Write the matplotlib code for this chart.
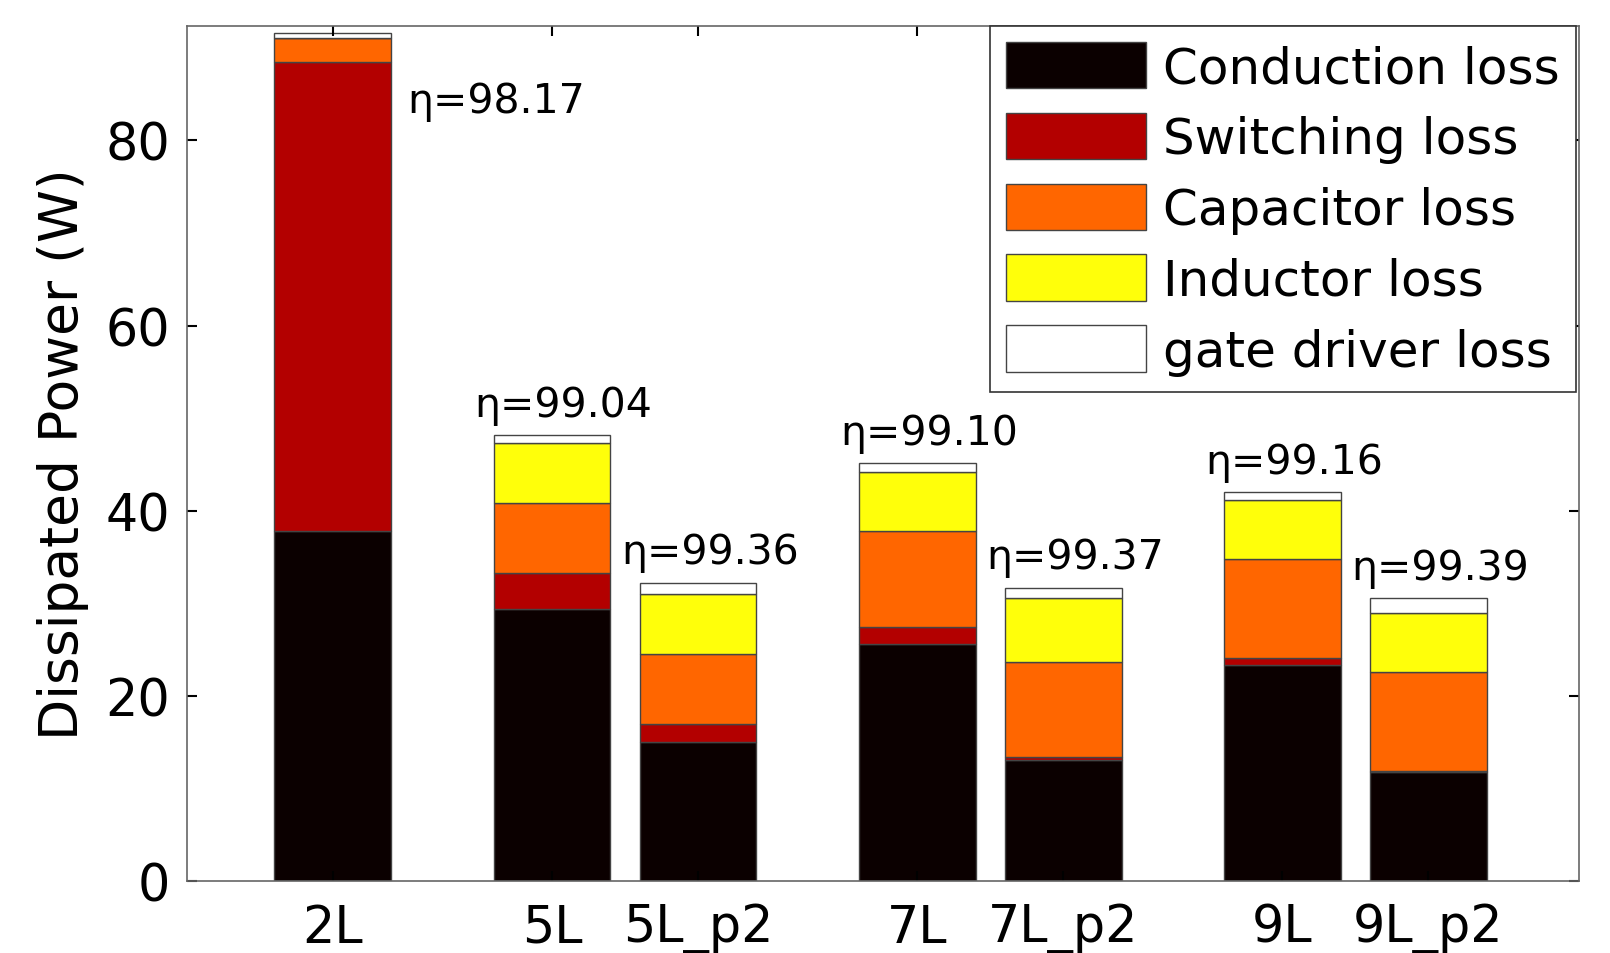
import matplotlib
matplotlib.use("Agg")
import matplotlib.pyplot as plt
import numpy as np

categories = ["2L", "5L", "5L_p2", "7L", "7L_p2", "9L", "9L_p2"]
conduction = [37.8, 29.4, 14.95, 25.6, 13.0, 23.35, 11.8]
switching = [50.7, 3.8, 1.95, 1.85, 0.4, 0.7, 0.05]
capacitor = [2.6, 7.65, 7.6, 10.3, 10.27, 10.7, 10.66]
inductor = [0.0, 6.45, 6.5, 6.45, 6.83, 6.4, 6.45]
gate_driver = [0.5, 0.85, 1.2, 0.9, 1.17, 0.85, 1.55]
efficiency = ["98.17", "99.04", "99.36", "99.10", "99.37", "99.16", "99.39"]

series_names = ["Conduction loss", "Switching loss", "Capacitor loss",
                "Inductor loss", "gate driver loss"]
series_colors = ["#0b0000", "#b30000", "#ff6600", "#ffff0a", "#ffffff"]

positions = np.array([1, 2.5, 3.5, 5, 6, 7.5, 8.5])

fig = plt.figure(figsize=(16.1, 9.54), dpi=100)
ax = fig.add_axes([0.116, 0.0758, 0.8647, 0.8962])

bottom = np.zeros(len(categories))
for vals, name, col in zip([conduction, switching, capacitor, inductor, gate_driver],
                           series_names, series_colors):
    vals = np.array(vals)
    ax.bar(positions, vals, width=0.8, bottom=bottom, color=col,
           edgecolor="#444444", linewidth=1.0, label=name)
    bottom = bottom + vals

eta_font = dict(fontsize=29.5, family="DejaVu Sans", color="black")
for i, (p, top, e) in enumerate(zip(positions, bottom, efficiency)):
    if i == 0:
        ax.text(p + 0.51, top - 7.3, "\u03b7=" + e, ha="left", va="center", **eta_font)
    else:
        ax.text(p + 0.08, top + 3.3, "\u03b7=" + e, ha="center", va="center", **eta_font)

ax.set_xlim(0, 9.53)
ax.set_ylim(0, 92.4)
ax.set_xticks(positions)
ax.set_xticklabels(categories)
ax.set_yticks([0, 20, 40, 60, 80])
ax.tick_params(axis="both", direction="in", length=7, width=1.5, top=True,
               right=True, labelsize=36.5, color="black")
ax.tick_params(axis="y", pad=12)
ax.tick_params(axis="x", pad=16)
for s in ax.spines.values():
    s.set_color("#666666")
    s.set_linewidth(1.2)

ax.set_ylabel("Dissipated Power (W)", fontsize=38.5, labelpad=12)

leg = ax.legend(loc="upper right", bbox_to_anchor=(0.998, 1.0), borderaxespad=0,
                fontsize=36, handlelength=2.8, handleheight=1.06,
                labelspacing=0.41, handletextpad=0.35, borderpad=0.32,
                fancybox=False, framealpha=1)
leg.get_frame().set_edgecolor("#333333")
leg.get_frame().set_linewidth(1.2)

fig.savefig("out.png", dpi=100)
